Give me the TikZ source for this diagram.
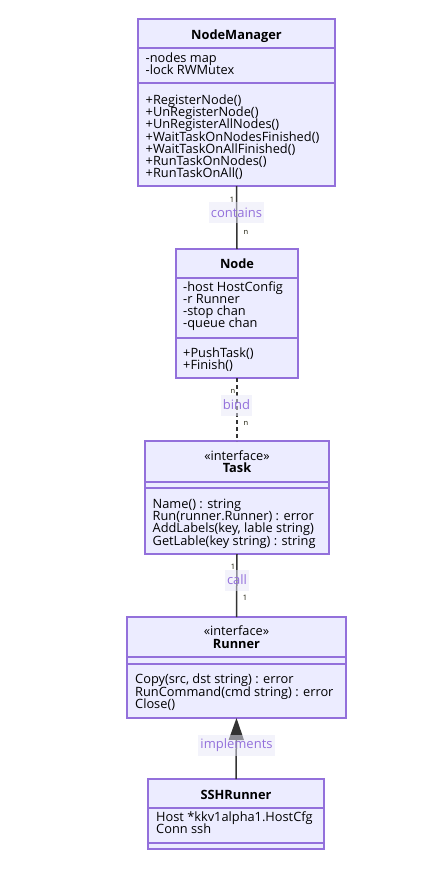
\documentclass[tikz,border=0pt]{standalone}
\usepackage{fontspec}
\setmainfont{Open Sans}
\usetikzlibrary{arrows.meta}
\definecolor{boxfill}{HTML}{ECECFF}
\definecolor{boxline}{HTML}{9370DB}
\definecolor{edgec}{HTML}{333333}
\definecolor{lbltext}{HTML}{9370DB}
\definecolor{lblbg}{HTML}{E8E8F8}
\definecolor{cardc}{HTML}{131300}
\newcommand{\boxlines}[4]{%
  \foreach \t [count=\i from 0] in {#4}
    \node[txt] at ({#1},{#2+\i*#3}) {\t};}
\begin{document}
\begin{tikzpicture}[x=1pt,y=-1pt,
  umlbox/.style={draw=boxline, fill=boxfill, line width=1.1pt, anchor=north west, inner sep=0pt, outer sep=0pt},
  divider/.style={draw=boxline, line width=1.1pt},
  txt/.style={anchor=base west, inner sep=0pt, font=\fontsize{12.8}{14}\selectfont},
  ttl/.style={anchor=base, inner sep=0pt, font=\bfseries\fontsize{12.8}{14}\selectfont},
  ster/.style={anchor=base, inner sep=0pt, font=\fontsize{12.8}{14}\selectfont},
  edge/.style={draw=edgec, line width=1.5pt},
  elabel/.style={fill=lblbg, fill opacity=0.5, text opacity=1, text=lbltext, inner xsep=2pt, inner ysep=0pt, minimum height=21pt, font=\fontsize{13}{14}\selectfont},
  card/.style={text=cardc, inner sep=0pt, font=\fontsize{7.5}{8}\selectfont}]
\useasboundingbox (0,0) rectangle (435,883);

% NodeManager
\node[umlbox, minimum width=197pt, minimum height=167pt] (nm) at (138,19) {};
\draw[divider] (138,48) -- (335,48);
\draw[divider] (138,83) -- (335,83);
\node[ttl] (nmt) at (236.5,39.3) {NodeManager};
\boxlines{145.5}{62.6}{12}{-nodes map,-lock RWMutex}
\boxlines{145.5}{104.6}{12.17}{+RegisterNode(),+UnRegisterNode(),+UnRegisterAllNodes(),+WaitTaskOnNodesFinished(),+WaitTaskOnAllFinished(),+RunTaskOnNodes(),+RunTaskOnAll()}

% Node
\node[umlbox, minimum width=122pt, minimum height=129pt] (nd) at (176,249) {};
\draw[divider] (176,278) -- (298,278);
\draw[divider] (176,338) -- (298,338);
\node[ttl] (ndt) at (237,268.3) {Node};
\boxlines{183}{291.3}{12}{-host HostConfig,-r Runner,-stop chan,-queue chan}
\boxlines{183}{357}{12}{+PushTask(),+Finish()}

% Task
\node[umlbox, minimum width=184pt, minimum height=113pt] (tk) at (145,441) {};
\draw[divider] (145,482) -- (329,482);
\draw[divider] (145,488) -- (329,488);
\node[ster] (tks) at (237,460.5) {«interface»};
\node[ttl] (tkt) at (237,472) {Task};
\boxlines{152.5}{508}{12.47}{Name() : string,Run(runner.Runner) : error,{AddLabels(key, lable string)},GetLable(key string) : string}

% Runner
\node[umlbox, minimum width=219pt, minimum height=101pt] (rn) at (127,617) {};
\draw[divider] (127,657) -- (346,657);
\draw[divider] (127,664) -- (346,664);
\node[ster] (rns) at (236.5,635.5) {«interface»};
\node[ttl] (rnt) at (236.5,648) {Runner};
\boxlines{135}{683.7}{12.5}{{Copy(src, dst string) : error},RunCommand(cmd string) : error,Close()}

% SSHRunner
\node[umlbox, minimum width=176pt, minimum height=70pt] (ssh) at (148,779) {};
\draw[divider] (148,808) -- (324,808);
\draw[divider] (148,843) -- (324,843);
\node[ttl] (ssht) at (236,799.3) {SSHRunner};
\boxlines{156}{821.4}{12}{Host *kkv1alpha1.HostCfg,Conn ssh}

% connectors
\draw[edge] (nm.south) -- (nd.north);
\node[elabel] (l1) at (236.5,212.5) {contains};
\node[card] (c1a) at (232,200) {1};
\node[card] (c1b) at (246,232) {n};

\draw[edge, dash pattern=on 4pt off 3pt] (nd.south) -- (tk.north);
\node[elabel] (l2) at (236.5,405) {bind};
\node[card] (c2a) at (233,391) {n};
\node[card] (c2b) at (246,423) {n};

\draw[edge] (tk.south) -- (rn.north);
\node[elabel] (l3) at (237,580) {call};
\node[card] (c3a) at (233,567) {1};
\node[card] (c3b) at (245,598) {1};

\draw[edge, -{Triangle[width=15pt,length=22pt,fill=edgec]}] (ssh.north) -- (rn.south);
\node[elabel] (l4) at (236.5,745.5) {implements};
\end{tikzpicture}
\end{document}
